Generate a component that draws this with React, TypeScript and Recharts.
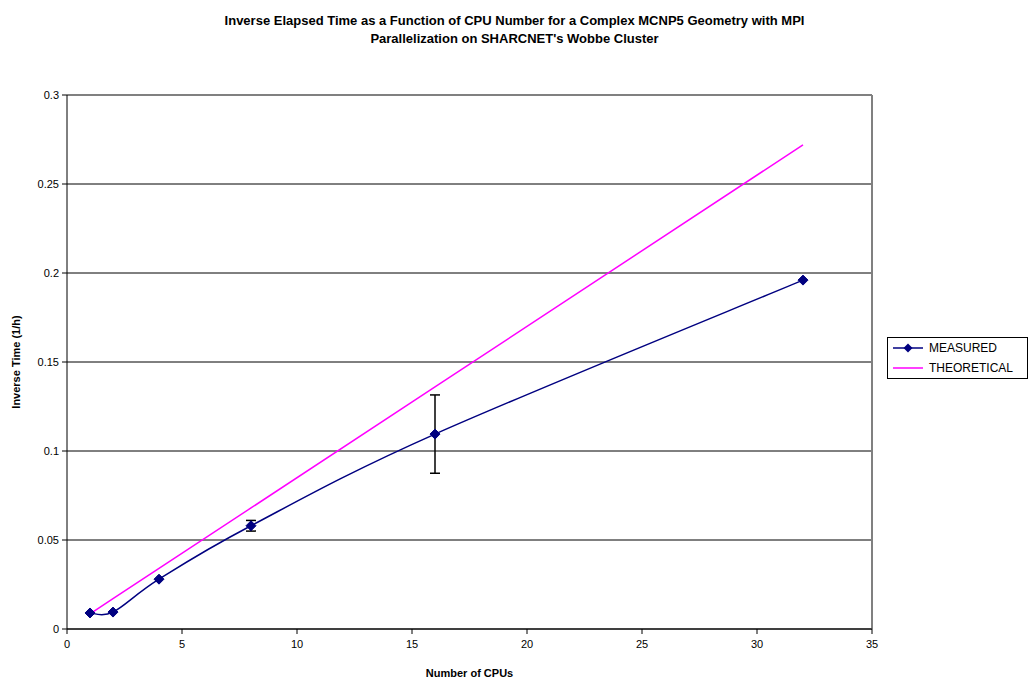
import { LineChart, Line, XAxis, YAxis, CartesianGrid, ReferenceLine, ErrorBar } from 'recharts'

const cpus = [1, 2, 4, 8, 16, 32]
const measured = [0.009, 0.0095, 0.028, 0.058, 0.1095, 0.196]
const measuredErr = [null, null, null, 0.003, 0.022, null]
const theoretical = [0.0085, 0.017, 0.034, 0.068, 0.136, 0.272]
const xTicks = [0, 5, 10, 15, 20, 25, 30, 35]
const yTicks = [0, 0.05, 0.1, 0.15, 0.2, 0.25, 0.3]

const FONT = '"Liberation Sans", Arial, sans-serif'
const NAVY = '#000080'
const MAGENTA = '#FF00FF'

const measuredData = cpus.map((n, i) => ({ n, v: measured[i], err: measuredErr[i] }))
const theoreticalData = cpus.map((n, i) => ({ n, v: theoretical[i] }))

// smoothed line like a spreadsheet's "smoothed line" option (catmull-rom style beziers)
function smoothCurve(context: any) {
  let pts: [number, number][] = []
  return {
    areaStart() {},
    areaEnd() {},
    lineStart() { pts = [] },
    lineEnd() {
      if (!pts.length) return
      context.moveTo(pts[0][0], pts[0][1])
      for (let i = 0; i < pts.length - 1; i++) {
        const p0 = pts[Math.max(i - 1, 0)]
        const p1 = pts[i]
        const p2 = pts[i + 1]
        const p3 = pts[Math.min(i + 2, pts.length - 1)]
        context.bezierCurveTo(
          p1[0] + (p2[0] - p0[0]) / 6, p1[1] + (p2[1] - p0[1]) / 6,
          p2[0] - (p3[0] - p1[0]) / 6, p2[1] - (p3[1] - p1[1]) / 6,
          p2[0], p2[1]
        )
      }
    },
    point(x: number, y: number) { pts.push([+x, +y]) },
  }
}

function Diamond(props: any) {
  const { cx, cy } = props
  if (cx == null || cy == null) return null
  const r = 5
  return <polygon key={`d-${cx}-${cy}`} points={`${cx},${cy - r} ${cx + r},${cy} ${cx},${cy + r} ${cx - r},${cy}`} fill={NAVY} stroke={NAVY} />
}

function LegendBox() {
  const row: React.CSSProperties = { display: 'flex', alignItems: 'center', height: 20 }
  return (
    <div style={{ position: 'absolute', left: 887, top: 337, border: '1px solid #000', background: '#fff', width: 139, height: 40, fontFamily: FONT, fontSize: 12, color: '#000' }}>
      <div style={row}>
        <svg width={36} height={12} style={{ marginLeft: 5 }}>
          <line x1={0} y1={6} x2={30} y2={6} stroke={NAVY} strokeWidth={1.5} />
          <polygon points="15,1.5 19.5,6 15,10.5 10.5,6" fill={NAVY} />
        </svg>
        <span>MEASURED</span>
      </div>
      <div style={row}>
        <svg width={36} height={12} style={{ marginLeft: 5 }}>
          <line x1={0} y1={6} x2={30} y2={6} stroke={MAGENTA} strokeWidth={1.5} />
        </svg>
        <span>THEORETICAL</span>
      </div>
    </div>
  )
}

export default function App() {
  const tick = { fontSize: 11, fill: '#000', fontFamily: FONT }
  return (
    <div style={{ position: 'absolute', left: 0, top: 0, width: 1029, height: 683, background: '#fff' }}>
      <div style={{ position: 'absolute', left: 0, top: 12, width: 1029, textAlign: 'center', fontFamily: FONT, fontWeight: 700, fontSize: 13, lineHeight: '18px', color: '#000' }}>
        Inverse Elapsed Time as a Function of CPU Number for a Complex MCNP5 Geometry with MPI<br />
        Parallelization on SHARCNET's Wobbe Cluster
      </div>
      <LineChart width={1029} height={683} margin={{ top: 95, right: 157, bottom: 0, left: 0 }}>
        <CartesianGrid horizontal vertical={false} stroke="#000" strokeOpacity={1} />
        <XAxis
          type="number"
          dataKey="n"
          domain={[0, 35]}
          ticks={xTicks}
          height={54}
          tick={tick}
          tickSize={5}
          tickMargin={6}
          stroke="#000"
          label={{ value: 'Number of CPUs', position: 'insideBottom', offset: 6, style: { fontSize: 11, fontWeight: 700, fill: '#000', fontFamily: FONT } }}
        />
        <YAxis
          type="number"
          domain={[0, 0.3]}
          ticks={yTicks}
          width={67}
          tick={tick}
          tickSize={5}
          tickMargin={3}
          stroke="#000"
          label={{ value: 'Inverse Time (1/h)', angle: -90, position: 'insideLeft', offset: 16, style: { textAnchor: 'middle', fontSize: 11, fontWeight: 700, fill: '#000', fontFamily: FONT } }}
        />
        <ReferenceLine y={0.3} stroke="#808080" strokeWidth={2} />
        <ReferenceLine x={35} stroke="#808080" strokeWidth={2} />
        <Line
          data={theoreticalData}
          dataKey="v"
          name="THEORETICAL"
          type="linear"
          stroke={MAGENTA}
          strokeWidth={1.5}
          dot={false}
          activeDot={false}
          isAnimationActive={false}
        />
        <Line
          data={measuredData}
          dataKey="v"
          name="MEASURED"
          type={smoothCurve as any}
          stroke={NAVY}
          strokeWidth={1.5}
          dot={<Diamond />}
          activeDot={false}
          isAnimationActive={false}
        >
          <ErrorBar dataKey="err" direction="y" width={5} stroke="#000" strokeWidth={1.5} isAnimationActive={false} />
        </Line>
      </LineChart>
      <LegendBox />
    </div>
  )
}
